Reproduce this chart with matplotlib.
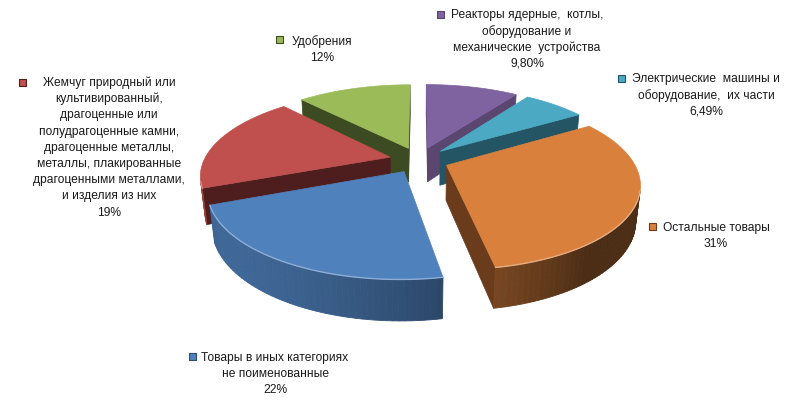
import numpy as np
import matplotlib
matplotlib.use('Agg')
import matplotlib.pyplot as plt
from matplotlib.patches import Polygon, Rectangle

# ---------------- data ----------------
categories = [
    'Реакторы ядерные,  котлы,\nоборудование и\nмеханические  устройства',
    'Электрические  машины и\nоборудование,  их части',
    'Остальные товары',
    'Товары в иных категориях\nне поименованные',
    'Жемчуг природный или\nкультивированный,\nдрагоценные или\nполудрагоценные камни,\n'
    'драгоценные металлы,\nметаллы, плакированные\nдрагоценными металлами,\nи изделия из них',
    'Удобрения',
]
values = [9.80, 6.49, 31, 22, 19, 12]
value_labels = ['9,80%', '6,49%', '31%', '22%', '19%', '12%']

# ---------------- style ----------------
top_colors = ['#7F63A0', '#4BA9C3', '#D9803D', '#4F81BD', '#C0504D', '#9BBB59']
wall_colors = ['#5A466F', '#235564', '#6A3C1C', '#2E4B72', '#4E1E1E', '#3D4B23']
label_pos = [(527, 15), (706, 79), (716, 228), (275, 358), (109, 83), (322, 42)]
marker_pos = [(440, 15), (621, 79), (652, 227), (192, 357), (22, 83), (279, 40)]
LINE_H = 16.2

fig = plt.figure(figsize=(7.9, 4.02), dpi=100)
ax = fig.add_axes([0, 0, 1, 1])
ax.set_xlim(0, 790)
ax.set_ylim(402, 0)
ax.axis('off')

# perspective 3D pie geometry
E = np.radians(25.7)
Dd, Fp = 4.456, 829.0
CX, CY = 419.0, 161.0
H, EXPL = 0.21, 0.16
ce, se = np.cos(E), np.sin(E)
cam = np.array([0.0, -Dd * ce, Dd * se])


def proj(X, Y, Z):
    X = np.asarray(X, float); Y = np.asarray(Y, float); Z = np.asarray(Z, float)
    depth = Y * ce - Z * se + Dd
    up = Y * se + Z * ce
    return CX + Fp * X / depth, CY - Fp * up / depth


def poly(X, Y, Z, **kw):
    sx, sy = proj(X, Y, Z)
    ax.add_patch(Polygon(np.column_stack([sx, sy]), closed=True, **kw))


def rgb(c):
    return np.array(matplotlib.colors.to_rgb(c))


vals = np.array(values, float)
cum = np.concatenate([[0], np.cumsum(vals / vals.sum())]) * 2 * np.pi
L = np.array([-0.8, -0.6])

slices = []
for i in range(len(vals)):
    t0, t1 = cum[i], cum[i + 1]
    tm = 0.5 * (t0 + t1)
    ox, oy = EXPL * np.sin(tm), EXPL * np.cos(tm)
    cy_ = oy + 0.5 * np.cos(tm)
    depth = cy_ * ce + Dd
    slices.append((depth, i, t0, t1, ox, oy))

slices.sort(key=lambda s: -s[0])

for depth, i, t0, t1, ox, oy in slices:
    base = rgb(top_colors[i])
    n = max(8, int(np.degrees(t1 - t0) / 1.5))
    ts = np.linspace(t0, t1, n + 1)
    rx, ry = ox + np.sin(ts), oy + np.cos(ts)
    # radial walls
    for t, nrm in ((t0, np.array([-np.cos(t0), np.sin(t0), 0])),
                   (t1, np.array([np.cos(t1), -np.sin(t1), 0]))):
        P = np.array([ox, oy, 0.0])
        if nrm @ (cam - P) > 0:
            X = [ox, ox + np.sin(t), ox + np.sin(t), ox]
            Y = [oy, oy + np.cos(t), oy + np.cos(t), oy]
            Z = [0, 0, -H, -H]
            poly(X, Y, Z, facecolor=wall_colors[i], edgecolor=wall_colors[i], lw=0.5)
    # outer wall
    vis_idx = []
    for j in range(n):
        ta = 0.5 * (ts[j] + ts[j + 1])
        nrm = np.array([np.sin(ta), np.cos(ta), 0])
        P = np.array([ox + np.sin(ta), oy + np.cos(ta), 0])
        if nrm @ (cam - P) > 0:
            vis_idx.append(j)
            f = 0.35 + 0.45 * max(0.0, nrm[:2] @ L)
            col = np.clip(base * f, 0, 1)
            X = [rx[j], rx[j + 1], rx[j + 1], rx[j]]
            Y = [ry[j], ry[j + 1], ry[j + 1], ry[j]]
            Z = [0, 0, -H, -H]
            poly(X, Y, Z, facecolor=col, edgecolor=col, lw=0.6)
    # top face
    X = np.concatenate([[ox], rx]); Y = np.concatenate([[oy], ry])
    poly(X, Y, np.zeros_like(X), facecolor=base, edgecolor=base, lw=0.5)
    # rim highlight
    if vis_idx:
        j0, j1 = vis_idx[0], vis_idx[-1] + 2
        sx, sy = proj(rx[j0:j1], ry[j0:j1], np.zeros(j1 - j0))
        hl = base + (1 - base) * 0.35
        ax.plot(sx, sy, color=hl, lw=1.0, solid_capstyle='round')

# ---------------- labels ----------------
FONT = dict(family='Liberation Sans', size=8.65, color='#1a1a1a')
for i in range(len(vals)):
    lines = categories[i].split('\n') + [value_labels[i]]
    x, y = label_pos[i]
    for k, ln in enumerate(lines):
        ax.text(x, y + k * LINE_H, ln, ha='center', va='center', **FONT)
    mx, my = marker_pos[i]
    ax.add_patch(Rectangle((mx - 3.5, my - 3.5), 7, 7, facecolor=top_colors[i],
                           edgecolor=wall_colors[i], lw=0.8))

fig.savefig('out.png', dpi=100)
